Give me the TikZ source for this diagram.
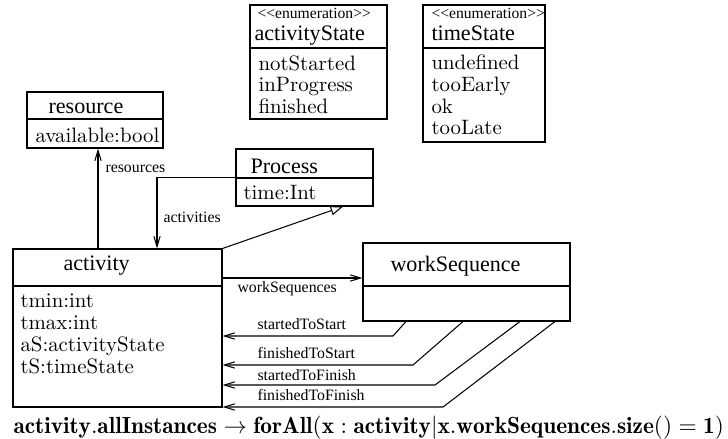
\documentclass[tikz,border=0pt]{standalone}
\usepackage{fontspec}
\usepackage{graphicx}
\newfontfamily\tms{Liberation Serif}
\usetikzlibrary{arrows.meta,fit}
\begin{document}
\begin{tikzpicture}[x=0.48pt,y=-0.48pt,line width=0.5pt,
  box/.style={draw,inner sep=0pt},
  hdr/.style={font=\tms\fontsize{10.6}{12}\selectfont,inner sep=0pt,anchor=base west},
  attr/.style={font=\fontsize{10}{12}\selectfont,inner sep=0pt,anchor=base west},
  stereo/.style={font=\tms\fontsize{7.5}{9}\selectfont,inner sep=0pt,anchor=base west},
  lbl/.style={font=\tms\fontsize{7.6}{9}\selectfont,inner sep=0pt,anchor=base west},
  assoc/.style={-{Straight Barb[length=5pt,width=3pt]}},
  gen/.style={-{Triangle[open,length=6pt,width=4.5pt]}}]
\useasboundingbox (0,0) rectangle (728,439);

% activityState enumeration
\node[box,fit={(250,5)(387,119)}] (aState) {};
\draw (250,48) -- (387,48);
\node[stereo] (aStereo) at (257,19) {<<enumeration>>};
\node[hdr] (aStateH) at (254,41) {activityState};
\node[attr] (e1) at (258,71) {notStarted};
\node[attr] (e2) at (258,92) {inProgress};
\node[attr] (e3) at (258,113) {finished};

% timeState enumeration
\node[box,fit={(423,5)(545,142)}] (tState) {};
\draw (423,48) -- (545,48);
\node[stereo] (tStereo) at (431,19) {<<enumeration>>};
\node[hdr] (tStateH) at (431,41) {timeState};
\node[attr] (t1) at (431,70) {undefined};
\node[attr] (t2) at (431,91.5) {tooEarly};
\node[attr] (t3) at (431,113) {ok};
\node[attr] (t4) at (431,134.5) {tooLate};

% resource
\node[box,fit={(27,92)(163,148)}] (resource) {};
\draw (27,119) -- (163,119);
\node[hdr] (resH) at (48,113) {resource};
\node[attr] (resA) at (35,142) {available:bool};

% Process
\node[box,fit={(236,149)(373,206)}] (process) {};
\draw (236,178) -- (373,178);
\node[hdr] (procH) at (250,173) {Process};
\node[attr] (procA) at (243,199.5) {time:Int};

% activity
\node[box,fit={(13,249)(222,407)}] (activity) {};
\draw (13,286) -- (222,286);
\node[hdr] (actH) at (63,270) {activity};
\node[attr] (act1) at (20,307) {tmin:int};
\node[attr] (act2) at (20,329) {tmax:int};
\node[attr] (act3) at (20,351) {aS:activityState};
\node[attr] (act4) at (20,373) {tS:timeState};

% workSequence
\node[box,fit={(363,243)(570,321)}] (ws) {};
\draw (363,286) -- (570,286);
\node[hdr] (wsH) at (390,271) {workSequence};

% helper coordinates
\coordinate (rx) at (98,0);
\coordinate (ax) at (157,0);
\coordinate (gx) at (343,0);
\coordinate (wy) at (0,278);
\coordinate (c1) at (406,0);
\coordinate (c2) at (463,0);
\coordinate (c3) at (520,0);
\coordinate (c4) at (555,0);
\coordinate (k1) at (393,336);
\coordinate (k2) at (413,365);
\coordinate (k3) at (435,385);
\coordinate (k4) at (443,407);

% connectors
\draw[assoc] (activity.north -| rx) -- (resource.south -| rx);
\node[lbl] (lres) at (105,172) {resources};
\draw[assoc] (process.west) -| (activity.north -| ax);
\node[lbl] (lact) at (163,222) {activities};
\draw[gen] (activity.north east) -- (process.south -| gx);
\draw[assoc] (activity.east |- wy) -- (ws.west |- wy);
\node[lbl] (lws) at (237,292) {workSequences};

\draw[assoc] (ws.south -| c1) -- (k1) -- (activity.east |- k1);
\node[lbl] (l1) at (257,329) {startedToStart};
\draw[assoc] (ws.south -| c2) -- (k2) -- (activity.east |- k2);
\node[lbl] (l2) at (257,358) {finishedToStart};
\draw[assoc] (ws.south -| c3) -- (k3) -- (activity.east |- k3);
\node[lbl] (l3) at (257,380) {startedToFinish};
\draw[assoc] (ws.south -| c4) -- (k4) -- (activity.east |- k4);
\node[lbl] (l4) at (257,400.7) {finishedToFinish};

% OCL constraint
\node[anchor=base west,inner sep=0pt] (ocl) at (13,433)
  {\resizebox{341pt}{!}{$\mathbf{activity.allInstances}\rightarrow\mathbf{forAll(x:activity|x.workSequences.size()=1)}$}};
\end{tikzpicture}
\end{document}
